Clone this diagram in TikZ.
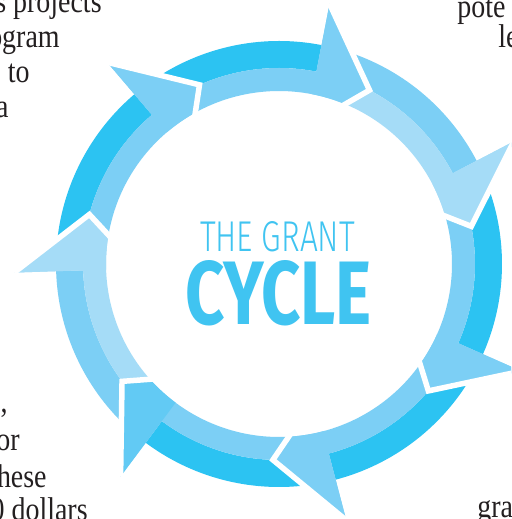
\documentclass[tikz,border=0pt]{standalone}
\usepackage{fontspec}
\usepackage{graphicx}
\setmainfont{Liberation Serif}
\newfontfamily\titlelight{Fira Sans Light}
\newfontfamily\titlebold{Fira Sans}
\usetikzlibrary{calc}
\definecolor{cdark}{RGB}{44,195,242}
\definecolor{cmed}{RGB}{124,207,245}
\definecolor{clight}{RGB}{165,220,247}
\definecolor{cmid}{RGB}{98,202,244}
\definecolor{ctext}{RGB}{64,196,241}
\definecolor{cink}{RGB}{35,31,32}
\tikzset{
  frag/.style={font=\fontsize{15.9}{19}\selectfont, inner sep=0pt, text=cink},
  gapline/.style={white, line width=0.11cm, line join=miter},
  title/.style={inner sep=0pt, text=ctext}
}
\begin{document}
\begin{tikzpicture}[x=0.02cm,y=0.02cm]
\useasboundingbox (-279,-255) rectangle (232,264);
\clip (-279,-255) rectangle (232,264);
\fill[white] (-279,-255) rectangle (232,264);

% ring segments
\foreach \j/\co/\ci/\ch in {0/cdark/cmed/cmed, 1/cmed/clight/clight, 2/cdark/cmed/cmed, 3/cdark/cmed/cmed, 4/cdark/cmed/cmid, 5/cmed/clight/clight, 6/cdark/cmed/cmed} {
  \pgfmathsetmacro{\segb}{79-\j*360/7}
  \pgfmathsetmacro{\segt}{\segb-16.5}
  \pgfmathsetmacro{\segtp}{\segt+360/7}
  \pgfmathsetmacro{\segop}{\segtp+8.6}
  \pgfmathsetmacro{\segip}{\segtp+5}
  \pgfmathsetmacro{\segit}{\segt+5}
  \fill[\co] (\segop:223) arc[start angle=\segop, end angle=\segb, radius=223] -- (\segb:196) arc[start angle=\segb, end angle=\segtp, radius=196] -- cycle;
  \fill[\ci] (\segip:173) -- (\segtp:196) arc[start angle=\segtp, end angle=\segb, radius=196] -- (\segb:265) -- (\segt:196) -- (\segit:173) arc[start angle=\segit, end angle=\segip, radius=173] -- cycle;
  \fill[\ch] (\segb:196) -- (\segb:265) -- (\segt:196) -- (\segit:173) arc[start angle=\segit, end angle=\segb, radius=173] -- cycle;
}
% white gaps
\foreach \j in {0,...,6} {
  \pgfmathsetmacro{\segb}{79-\j*360/7}
  \pgfmathsetmacro{\segt}{\segb-16.5}
  \pgfmathsetmacro{\segit}{\segt+5}
  \coordinate (tip\j) at (\segt:196);
  \coordinate (barb\j) at (\segb:265);
  \coordinate (inn\j) at ($(tip\j)!1.35!(\segit:173)$);
  \draw[gapline] (inn\j) -- (tip\j) -- (barb\j);
}

% title
\node[title] (t1) at (-1.5,27) {\resizebox{3.1cm}{0.6cm}{\titlelight THE GRANT}};
\node[title] (t2) at (-0.5,-29) {\resizebox{3.74cm}{1.28cm}{\titlebold\bfseries CYCLE}};

% text fragments
\node[frag, anchor=base east] (f1) at (-177,251) {\scalebox{1}[1.18]{s projects}};
\node[frag, anchor=base east] (f2) at (-219,216) {\scalebox{1}[1.18]{ogram}};
\node[frag, anchor=base east] (f3) at (-249,181) {\scalebox{1}[1.18]{to}};
\node[frag, anchor=base east] (f4) at (-270,146) {\scalebox{1}[1.18]{a}};
\node[frag, anchor=base west] (f5) at (178,246) {\scalebox{1}[1.18]{pote}};
\node[frag, anchor=base west] (f6) at (219,216) {\scalebox{1}[1.18]{le}};
\node[frag, anchor=base east] (f7) at (-271,-149) {\scalebox{1}[1.18]{,}};
\node[frag, anchor=base east] (f8) at (-259,-186) {\scalebox{1}[1.18]{or}};
\node[frag, anchor=base east] (f9) at (-232,-223) {\scalebox{1}[1.18]{hese}};
\node[frag, anchor=base east] (f10) at (-191,-256) {\scalebox{1}[1.18]{0 dollars}};
\node[frag, anchor=base west] (f11) at (198,-253) {\scalebox{1}[1.18]{gra}};
\end{tikzpicture}
\end{document}
